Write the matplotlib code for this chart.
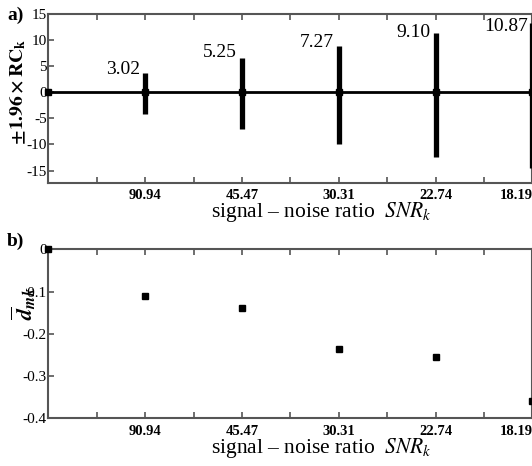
import matplotlib
matplotlib.use("Agg")
import matplotlib.pyplot as plt
import numpy as np

plt.rcParams['font.family'] = ['Liberation Serif', 'DejaVu Serif']
plt.rcParams['mathtext.fontset'] = 'stix'
plt.rcParams['axes.unicode_minus'] = False

# data
positions = [0, 1, 2, 3, 4, 5]
snr_labels = ['90.94', '45.47', '30.31', '22.74', '18.19']
rc_values = ['3.02', '5.25', '7.27', '9.10', '10.87']
bar_top = [3.7, 6.6, 8.8, 11.4, 13.3]
bar_bottom = [-4.1, -7.1, -10.0, -12.4, -14.5]
label_y = [4.3, 7.6, 9.5, 11.4, 12.6]
d_mk = [0.0, -0.11, -0.14, -0.235, -0.255, -0.36]

W, H = 532, 466
fig = plt.figure(figsize=(W / 100, H / 100), dpi=100)
frame_col = '#555555'

L = 48.3
ax1 = fig.add_axes([L / W, 1 - 182.5 / H, (W - L + 0.5) / W, (182.5 - 14) / H])
ax2 = fig.add_axes([L / W, 1 - 418.3 / H, (W - L + 0.5) / W, (418.3 - 249.3) / H])
ax_w = W - L + 0.5

for ax, h in ((ax1, 182.5 - 14), (ax2, 418.3 - 249.3)):
    ax.set_xlim(0, 5)
    ticks = np.arange(0.5, 5.01, 0.5)
    ax.set_xticks(ticks)
    labs = [snr_labels[int(t) - 1] if abs(t - round(t)) < 1e-9 else '' for t in ticks]
    ax.set_xticklabels(labs, fontweight='bold', fontsize=10.5)
    ax.get_xticklabels()[-1].set_ha('right')
    ax.tick_params(axis='x', direction='in', top=True, length=4, width=1.2, color=frame_col, pad=5)
    ax.tick_params(axis='y', direction='in', length=4, width=1.2, color=frame_col, labelsize=11, pad=1)
    for s in ax.spines.values():
        s.set_color(frame_col)
        s.set_linewidth(1.5)
    ax.set_xlabel('signal – noise ratio  $SNR_k$', fontsize=15.5)
    ax.xaxis.set_label_coords((321 - L) / ax_w, -30 / h)
    ax.xaxis.label.set_va('center')

# top panel
ax1.set_ylim(-17.3, 15)
ax1.set_yticks([15, 10, 5, 0, -5, -10, -15])
ax1.axhline(0, color='black', lw=2.0, zorder=2)
ax1.vlines(positions[1:], bar_bottom, bar_top, color='black', lw=3.8, zorder=3)
ax1.plot(positions, [0] * len(positions), 's', color='black', ms=4, zorder=4, clip_on=False)
for x, y, t in zip(positions[1:], label_y, rc_values):
    ax1.text(x - 0.05, y, t, ha='right', va='center', fontsize=14)
ax1.set_ylabel(r'$\mathbf{\pm 1.96\times RC_k}$', fontsize=14)
ax1.yaxis.set_label_coords((18 - L) / ax_w, (182.5 - 92) / (182.5 - 14))
ax1.yaxis.label.set_va('center')

# bottom panel
ax2.set_ylim(-0.4, 0)
ax2.set_yticks([0, -0.1, -0.2, -0.3, -0.4])
ax2.set_yticklabels(['0', '-0.1', '-0.2', '-0.3', '-0.4'])
ax2.plot(positions, d_mk, 's', color='black', ms=4.5, zorder=4, clip_on=False)
ax2.set_ylabel(r'$\overline{\mathbfit{d}}_{\mathbfit{mk}}$', fontsize=16)
ax2.yaxis.set_label_coords((24 - L) / ax_w, (418.3 - 303) / (418.3 - 249.3))
ax2.yaxis.label.set_va('center')

fig.text(7 / W, 1 - 15 / H, 'a)', fontsize=14, fontweight='bold', va='center')
fig.text(7 / W, 1 - 241 / H, 'b)', fontsize=14, fontweight='bold', va='center')

fig.savefig('out.png', dpi=100)
